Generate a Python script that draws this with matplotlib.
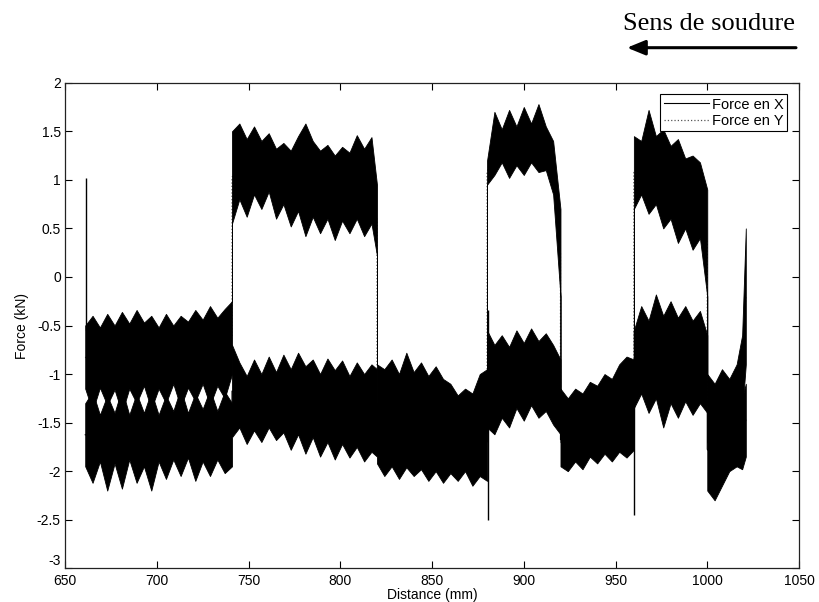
import numpy as np
import matplotlib.pyplot as plt

plt.rcParams['font.family'] = ['Liberation Sans', 'DejaVu Sans']
plt.rcParams['axes.unicode_minus'] = False

# sampling positions along the weld (mm), segment ends are repeated
DIST = [
    661, 665, 669, 673, 677, 681, 685, 689, 693, 697, 701, 705, 709, 713, 717, 721, 725, 729, 733, 737, 741,
    741, 745, 749, 753, 757, 761, 765, 769, 773, 777, 781, 785, 789, 793, 797, 801, 805, 809, 813, 817, 820,
    820, 824, 828, 832, 836, 840, 844, 848, 852, 856, 860, 864, 868, 872, 876, 880,
    880, 884, 888, 892, 896, 900, 904, 908, 912, 916, 920,
    920, 924, 928, 932, 936, 940, 944, 948, 952, 956, 960,
    960, 964, 968, 972, 976, 980, 984, 988, 992, 996, 1000,
    1000, 1004, 1008, 1012, 1016, 1019, 1021,
]

# Force en Y : upper / lower envelope of the noisy signal (kN)
FY_HI = [
    -0.50, -0.40, -0.52, -0.38, -0.50, -0.36, -0.48, -0.34, -0.47, -0.40, -0.52, -0.38, -0.50, -0.40, -0.46, -0.34, -0.44, -0.30, -0.42, -0.33, -0.25,
    1.50, 1.58, 1.42, 1.55, 1.40, 1.48, 1.32, 1.38, 1.30, 1.45, 1.58, 1.40, 1.30, 1.36, 1.25, 1.34, 1.28, 1.46, 1.32, 1.44, 0.95,
    -0.90, -0.95, -0.85, -1.00, -0.78, -0.98, -0.88, -1.02, -0.92, -1.05, -1.10, -1.22, -1.15, -1.20, -1.00, -0.95,
    1.20, 1.70, 1.52, 1.72, 1.55, 1.75, 1.58, 1.78, 1.55, 1.40, 0.70,
    -1.15, -1.25, -1.15, -1.20, -1.08, -1.12, -1.00, -1.05, -0.90, -0.82, -0.85,
    1.45, 1.40, 1.72, 1.45, 1.52, 1.35, 1.42, 1.22, 1.25, 1.18, 0.90,
    -1.00, -1.10, -0.95, -1.05, -0.90, -0.60, 0.50,
]
FY_LO = [
    -1.15, -1.38, -1.14, -1.32, -1.16, -1.40, -1.15, -1.30, -1.12, -1.36, -1.15, -1.30, -1.10, -1.34, -1.14, -1.28, -1.10, -1.32, -1.12, -1.25, -1.00,
    0.55, 0.80, 0.62, 0.85, 0.70, 0.88, 0.60, 0.75, 0.52, 0.68, 0.42, 0.62, 0.45, 0.60, 0.38, 0.58, 0.45, 0.60, 0.42, 0.55, 0.22,
    -1.55, -1.62, -1.50, -1.65, -1.55, -1.70, -1.58, -1.68, -1.60, -1.72, -1.65, -1.75, -1.70, -1.78, -1.70, -1.60,
    0.95, 1.05, 1.18, 1.02, 1.15, 1.05, 1.18, 1.08, 1.10, 0.85, -0.20,
    -1.70, -1.78, -1.65, -1.72, -1.62, -1.70, -1.58, -1.66, -1.55, -1.62, -1.50,
    0.70, 0.85, 0.65, 0.75, 0.50, 0.60, 0.35, 0.50, 0.28, 0.40, -0.20,
    -1.70, -1.80, -1.75, -1.70, -1.65, -1.40, -0.90,
]

# Force en X : upper / lower envelope (kN)
FX_HI = [
    -1.30, -1.18, -1.42, -1.22, -1.40, -1.15, -1.42, -1.20, -1.40, -1.18, -1.42, -1.22, -1.38, -1.15, -1.40, -1.20, -1.36, -1.16, -1.38, -1.18, -1.30,
    -0.70, -0.88, -1.02, -0.85, -1.00, -0.82, -0.98, -0.80, -0.95, -0.78, -0.92, -0.85, -1.00, -0.84, -0.96, -0.86, -1.02, -0.88, -1.00, -0.90, -0.95,
    -1.30, -1.20, -1.35, -1.25, -1.40, -1.30, -1.42, -1.30, -1.45, -1.35, -1.48, -1.40, -1.50, -1.42, -1.35, -1.30,
    -0.55, -0.70, -0.60, -0.72, -0.55, -0.68, -0.53, -0.66, -0.58, -0.70, -0.85,
    -1.40, -1.35, -1.45, -1.32, -1.40, -1.30, -1.38, -1.25, -1.35, -1.20, -1.30,
    -0.55, -0.30, -0.45, -0.18, -0.40, -0.25, -0.42, -0.30, -0.45, -0.35, -0.60,
    -1.35, -1.45, -1.30, -1.40, -1.30, -1.25, -1.10,
]
FX_LO = [
    -1.95, -2.12, -1.90, -2.20, -1.92, -2.18, -1.88, -2.12, -1.95, -2.20, -1.90, -2.08, -1.88, -2.05, -1.86, -2.10, -1.90, -2.05, -1.88, -2.02, -1.95,
    -1.65, -1.55, -1.72, -1.58, -1.70, -1.55, -1.68, -1.60, -1.78, -1.62, -1.82, -1.65, -1.85, -1.70, -1.88, -1.72, -1.86, -1.75, -1.90, -1.80, -1.85,
    -1.92, -2.05, -1.95, -2.08, -1.96, -2.05, -1.98, -2.10, -2.00, -2.12, -2.02, -2.10, -2.00, -2.15, -2.05, -2.10,
    -1.55, -1.62, -1.45, -1.55, -1.35, -1.48, -1.32, -1.45, -1.38, -1.52, -1.62,
    -1.95, -2.00, -1.90, -1.98, -1.85, -1.92, -1.82, -1.90, -1.80, -1.86, -1.78,
    -1.35, -1.20, -1.40, -1.25, -1.55, -1.30, -1.45, -1.28, -1.42, -1.30, -1.40,
    -2.20, -2.30, -2.15, -2.00, -1.95, -1.98, -1.85,
]

# isolated spikes at the start and at the direction changes
SPIKE_X = [661.2, 880.5, 960.3]
SPIKE_LO = [-0.55, -2.50, -2.45]
SPIKE_HI = [1.02, -0.34, -0.55]

X_TICKS = [650, 700, 750, 800, 850, 900, 950, 1000, 1050]
Y_TICKS = [2, 1.5, 1, 0.5, 0, -0.5, -1, -1.5, -2, -2.5, -3]

dist = np.array(DIST, dtype=float)
fy_hi, fy_lo = np.array(FY_HI), np.array(FY_LO)
fx_hi, fx_lo = np.array(FX_HI), np.array(FX_LO)

fig = plt.figure(figsize=(8.19, 6.02), dpi=100)
ax = fig.add_axes([0.0794, 0.056, 0.8962, 0.8066])

# traces through the band centres, drawn under the bands (they show the jumps)
ax.plot(dist, (fx_lo + fx_hi) / 2, color='k', lw=0.8, label='Force en X', zorder=1)
ax.plot(dist, (fy_lo + fy_hi) / 2, color='#555555', lw=0.9, ls=':', label='Force en Y', zorder=1)

# noisy bands
ax.fill_between(dist, fx_lo, fx_hi, color='k', lw=0.6, zorder=2)
ax.fill_between(dist, fy_lo, fy_hi, color='k', lw=0.6, zorder=2)
ax.vlines(SPIKE_X, SPIKE_LO, SPIKE_HI, color='k', lw=1.0, zorder=2)

ax.set_xlim(650, 1050)
ax.set_ylim(-3, 2)
ax.set_xticks(X_TICKS)
ax.set_yticks(Y_TICKS)
ax.set_yticklabels(['%g' % t for t in Y_TICKS])
ax.tick_params(direction='in', top=True, right=True, length=5, labelsize=10)
ax.tick_params(axis='x', pad=4)
ax.tick_params(axis='y', pad=3)
# lowest y label sits just above the corner, like the original
ax.get_yticklabels()[-1].set_va('bottom')
for s in ax.spines.values():
    s.set_linewidth(0.9)
    s.set_color('#222222')

ax.set_xlabel('Distance (mm)', fontsize=10, labelpad=0)
ax.set_ylabel('Force (kN)', fontsize=10, labelpad=6)

leg = ax.legend(loc='upper right', bbox_to_anchor=(0.984, 0.977), borderaxespad=0,
                fontsize=10.5, fancybox=False, framealpha=1, handlelength=3.1,
                handletextpad=0.2, borderpad=0.25, labelspacing=0.15)
leg.get_frame().set_edgecolor('k')
leg.get_frame().set_linewidth(0.8)

# welding direction note above the axes
fig.text(709 / 819, 1 - 24 / 602, 'Sens de soudure', family='Liberation Serif',
         fontsize=19, ha='center', va='center')
ax.annotate('', xy=(627 / 819, 1 - 47.7 / 602), xytext=(796 / 819, 1 - 47.7 / 602),
            xycoords='figure fraction', textcoords='figure fraction',
            arrowprops=dict(arrowstyle='-|>,head_length=1.1,head_width=0.45',
                            color='k', lw=2.2, shrinkA=0, shrinkB=0))

fig.savefig('out.png', dpi=100)
